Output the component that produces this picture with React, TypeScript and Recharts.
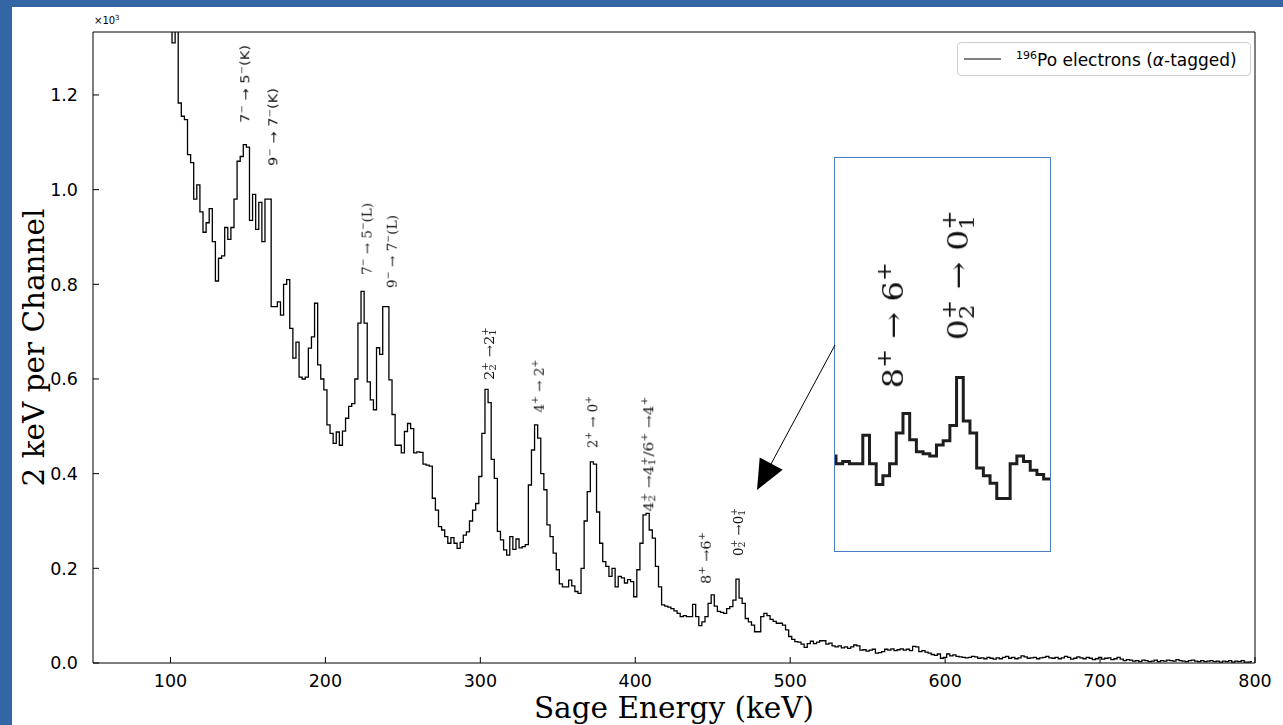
import React from 'react';
import { LineChart, Line, XAxis, YAxis, ReferenceDot } from 'recharts';

// Histogram: 2 keV channels, centre of first channel at 100 keV. Counts in units of 10^3.
const BIN_START_KEV = 100;
const BIN_WIDTH_KEV = 2;
const countsK = [
  // 100-198
  1.45, 1.31, 1.45, 1.183, 1.155, 1.148, 1.074, 1.057, 0.98, 1.01,
  0.953, 0.91, 0.93, 0.96, 0.89, 0.807, 0.855, 0.86, 0.92, 0.895,
  0.92, 0.98, 1.06, 1.07, 1.095, 1.09, 0.935, 0.99, 0.916, 0.973,
  0.89, 0.98, 0.98, 0.753, 0.753, 0.763, 0.735, 0.80, 0.81, 0.707,
  0.644, 0.678, 0.604, 0.60, 0.604, 0.665, 0.689, 0.76, 0.63, 0.60,
  // 200-298
  0.577, 0.503, 0.485, 0.464, 0.488, 0.46, 0.49, 0.517, 0.542, 0.548,
  0.60, 0.718, 0.785, 0.718, 0.594, 0.556, 0.535, 0.666, 0.652, 0.753,
  0.753, 0.598, 0.525, 0.46, 0.46, 0.444, 0.489, 0.506, 0.495, 0.444,
  0.446, 0.445, 0.42, 0.418, 0.416, 0.348, 0.323, 0.288, 0.281, 0.267,
  0.253, 0.265, 0.253, 0.242, 0.255, 0.27, 0.277, 0.30, 0.323, 0.337,
  // 300-398
  0.394, 0.485, 0.578, 0.55, 0.43, 0.39, 0.278, 0.26, 0.239, 0.228,
  0.267, 0.24, 0.262, 0.243, 0.246, 0.25, 0.376, 0.45, 0.503, 0.475,
  0.40, 0.366, 0.292, 0.267, 0.232, 0.197, 0.167, 0.161, 0.161, 0.175,
  0.163, 0.151, 0.147, 0.20, 0.30, 0.362, 0.425, 0.42, 0.319, 0.253,
  0.214, 0.204, 0.183, 0.20, 0.161, 0.183, 0.18, 0.169, 0.176, 0.172,
  // 400-498
  0.14, 0.197, 0.253, 0.313, 0.316, 0.281, 0.264, 0.204, 0.161, 0.123,
  0.12, 0.118, 0.115, 0.11, 0.105, 0.098, 0.10, 0.098, 0.098, 0.124,
  0.098, 0.079, 0.087, 0.098, 0.126, 0.144, 0.12, 0.109, 0.107, 0.105,
  0.115, 0.119, 0.133, 0.177, 0.137, 0.126, 0.094, 0.087, 0.08, 0.066,
  0.066, 0.098, 0.105, 0.10, 0.092, 0.088, 0.084, 0.084, 0.08, 0.07,
  // 500-598
  0.056, 0.05, 0.045, 0.044, 0.04, 0.033, 0.041, 0.046, 0.041, 0.044,
  0.047, 0.047, 0.04, 0.042, 0.036, 0.034, 0.036, 0.032, 0.034, 0.031,
  0.034, 0.038, 0.036, 0.027, 0.028, 0.025, 0.027, 0.029, 0.021, 0.022,
  0.024, 0.029, 0.027, 0.03, 0.026, 0.028, 0.03, 0.027, 0.029, 0.026,
  0.035, 0.034, 0.024, 0.026, 0.023, 0.021, 0.018, 0.016, 0.019, 0.01,
  // 600-698
  0.012, 0.019, 0.015, 0.017, 0.014, 0.013, 0.012, 0.011, 0.012, 0.014,
  0.013, 0.01, 0.011, 0.009, 0.012, 0.01, 0.008, 0.011, 0.009, 0.012,
  0.014, 0.01, 0.012, 0.009, 0.011, 0.015, 0.013, 0.01, 0.011, 0.012,
  0.009, 0.011, 0.012, 0.014, 0.011, 0.01, 0.012, 0.009, 0.011, 0.014,
  0.012, 0.008, 0.01, 0.013, 0.011, 0.009, 0.012, 0.01, 0.007, 0.009,
  // 700-798
  0.012, 0.008, 0.01, 0.011, 0.007, 0.009, 0.012, 0.008, 0.005, 0.007,
  0.006, 0.004, 0.005, 0.003, 0.006, 0.005, 0.003, 0.004, 0.006, 0.003,
  0.005, 0.004, 0.006, 0.005, 0.004, 0.007, 0.005, 0.004, 0.003, 0.005,
  0.006, 0.004, 0.003, 0.005, 0.003, 0.004, 0.005, 0.003, 0.004, 0.002,
  0.004, 0.003, 0.005, 0.002, 0.004, 0.003, 0.005, 0.002, 0.002, 0.003,
];

const xTicks = [100, 200, 300, 400, 500, 600, 700, 800];
const yTicks = [0, 0.2, 0.4, 0.6, 0.8, 1.0, 1.2];

const data = countsK.map((c, i) => ({ e: BIN_START_KEV + i * BIN_WIDTH_KEV, c }));

type Part = string | { sup: string; sub?: string };
interface Ann { e: number; v: number; parts: Part[]; len: number; sans?: boolean }

// Transition labels, anchored (bottom of the rotated text) in data coordinates.
const transitionLabels: Ann[] = [
  { e: 148.3, v: 1.141, parts: ['7', { sup: '−' }, ' → 5', { sup: '−' }, '(K)'], len: 78, sans: true },
  { e: 166.4, v: 1.050, parts: ['9', { sup: '−' }, ' → 7', { sup: '−' }, '(K)'], len: 78, sans: true },
  { e: 226.6, v: 0.820, parts: ['7', { sup: '−' }, ' → 5', { sup: '−' }, '(L)'], len: 72 },
  { e: 242.8, v: 0.792, parts: ['9', { sup: '−' }, ' → 7', { sup: '−' }, '(L)'], len: 73 },
  { e: 305.6, v: 0.598, parts: ['2', { sup: '+', sub: '2' }, ' →2', { sup: '+', sub: '1' }], len: 53 },
  { e: 337.7, v: 0.529, parts: ['4', { sup: '+' }, ' → 2', { sup: '+' }], len: 53 },
  { e: 372.3, v: 0.454, parts: ['2', { sup: '+' }, ' → 0', { sup: '+' }], len: 52 },
  { e: 408.4, v: 0.320, parts: ['4', { sup: '+', sub: '2' }, ' →4', { sup: '+', sub: '1' }, '/6', { sup: '+' }, ' →4', { sup: '+' }], len: 115 },
  { e: 445.5, v: 0.167, parts: ['8', { sup: '+' }, ' →6', { sup: '+' }], len: 52 },
  { e: 466.3, v: 0.226, parts: ['0', { sup: '+', sub: '2' }, ' →0', { sup: '+', sub: '1' }], len: 48 },
];

const insetLabels: Ann[] = [
  { e: 446.0, v: 0.167, parts: ['8', { sup: '+' }, ' → 6', { sup: '+' }], len: 126 },
  { e: 465.4, v: 0.211, parts: ['0', { sup: '+', sub: '2' }, ' → 0', { sup: '+', sub: '1' }], len: 130 },
];

const INSET_X_DOMAIN: [number, number] = [428.7, 492.9];
const INSET_Y_DOMAIN: [number, number] = [0.018, 0.378];

function RotLabel({ cx, cy, parts, fs, len, family }: { cx: number; cy: number; parts: Part[]; fs: number; len: number; family: string }) {
  const spans: React.ReactNode[] = [];
  let shift = 0;
  let pendingDx = 0;
  const supDy = -0.42 * fs;
  const subDy = 0.22 * fs;
  const sfs = 0.7 * fs;
  const charW = (ch: string) => (ch === '+' ? 0.838 : ch === '−' ? 0.838 : 0.636) * sfs;
  parts.forEach((p, k) => {
    if (typeof p === 'string') {
      spans.push(
        <tspan key={k} dy={-shift} dx={pendingDx} fontSize={fs}>{p}</tspan>
      );
      shift = 0;
      pendingDx = 0;
    } else {
      spans.push(
        <tspan key={k + 'a'} dy={supDy - shift} dx={pendingDx} fontSize={sfs}>{p.sup}</tspan>
      );
      shift = supDy;
      pendingDx = 0;
      if (p.sub) {
        const w = charW(p.sup);
        spans.push(
          <tspan key={k + 'b'} dx={-w} dy={subDy - shift} fontSize={sfs}>{p.sub}</tspan>
        );
        shift = subDy;
        pendingDx = Math.max(0, w - charW(p.sub));
      }
    }
  });
  return (
    <g transform={`translate(${cx},${cy}) rotate(-90)`} filter="url(#grayText)">
      <text x={0} y={0.36 * fs} fontFamily={family} fontSize={fs} fill="#111" textLength={len} lengthAdjust="spacingAndGlyphs">
        {spans}
      </text>
    </g>
  );
}

const TICK_FS = 17.5;
const TITLE_FS = 29.5;

function XTick(props: any) {
  const { x, y, payload } = props;
  return (
    <text x={x} y={y} dy={0.71 * TICK_FS} textAnchor="middle" fontFamily="DejaVu Sans" fontSize={TICK_FS} fill="#000">
      {payload.value}
    </text>
  );
}

function YTick(props: any) {
  const { x, y, payload } = props;
  return (
    <text x={x} y={y} dy={0.36 * TICK_FS} textAnchor="end" fontFamily="DejaVu Sans" fontSize={TICK_FS} fill="#000">
      {Number(payload.value).toFixed(1)}
    </text>
  );
}

export default function App() {
  return (
    <div style={{ position: 'fixed', left: 0, top: 0, width: 1283, height: 725, background: '#fff', overflow: 'hidden' }}>
      <svg width={0} height={0} style={{ position: 'absolute' }}>
        <defs>
          <filter id="grayText" x="-20%" y="-60%" width="140%" height="220%">
            <feColorMatrix type="saturate" values="0" />
          </filter>
        </defs>
      </svg>
      <div style={{ position: 'absolute', left: 0, top: 0, width: 1283, height: 7, background: '#3465a4' }} />
      <div style={{ position: 'absolute', left: 0, top: 0, width: 12, height: 725, background: '#3465a4' }} />
      <div style={{ position: 'absolute', left: 0, top: 0 }}>
        <LineChart width={1283} height={725} data={data} margin={{ top: 31, right: 27, left: 0, bottom: 0 }}>
          <XAxis
            dataKey="e"
            type="number"
            domain={[50, 800]}
            ticks={xTicks}
            allowDataOverflow
            height={62}
            tickSize={-6}
            tickMargin={18}
            tick={<XTick />}
            stroke="#000"
            label={{
              content: (props: any) => {
                const vb = props.viewBox || { x: 93, y: 663, width: 1162, height: 62 };
                return (
                  <text x={vb.x + vb.width / 2} y={vb.y + vb.height - 7.5} textAnchor="middle" fontFamily="DejaVu Serif" fontSize={TITLE_FS} fill="#000">
                    Sage Energy (keV)
                  </text>
                );
              },
            }}
          />
          <XAxis xAxisId="top" orientation="top" type="number" domain={[50, 800]} ticks={xTicks} allowDataOverflow height={1} tickSize={-6} tick={false} stroke="#000" />
          <YAxis
            type="number"
            domain={[0, 1.333]}
            ticks={yTicks}
            allowDataOverflow
            width={93}
            tickSize={-6}
            tickMargin={21}
            tick={<YTick />}
            stroke="#000"
            label={{
              content: (props: any) => {
                const vb = props.viewBox || { x: 0, y: 32, width: 93, height: 631 };
                const cy = vb.y + vb.height / 2;
                return (
                  <g>
                    <text x={44} y={cy} transform={`rotate(-90 44 ${cy})`} textAnchor="middle" fontFamily="DejaVu Serif" fontSize={TITLE_FS} fill="#000">
                      2 keV per Channel
                    </text>
                    <text x={vb.x + vb.width + 1} y={vb.y - 8} fontFamily="DejaVu Sans" fontSize={10} fill="#000">
                      ×10<tspan dy={-4} fontSize={7}>3</tspan>
                    </text>
                  </g>
                );
              },
            }}
          />
          <YAxis yAxisId="right" orientation="right" type="number" domain={[0, 1.333]} ticks={yTicks} allowDataOverflow width={1} tickSize={-6} tick={false} stroke="#000" />
          <Line type="step" dataKey="c" stroke="#000" strokeWidth={1.3} dot={false} isAnimationActive={false} />
          {transitionLabels.map((a, i) => (
            <ReferenceDot
              key={i}
              x={a.e}
              y={a.v}
              r={0}
              ifOverflow="visible"
              shape={(p: any) => (
                <RotLabel cx={p.cx} cy={p.cy} parts={a.parts} fs={a.sans ? 11.5 : 12.5} len={a.len} family={a.sans ? 'DejaVu Sans' : 'DejaVu Serif'} />
              )}
            />
          ))}
        </LineChart>
      </div>

      {/* Legend */}
      <div
        style={{
          position: 'absolute', left: 957, top: 42, width: 294, height: 34, boxSizing: 'border-box',
          border: '1px solid #cfcfcf', borderRadius: 4, background: '#fff', fontFamily: 'DejaVu Sans', fontSize: 17,
          color: '#000', display: 'flex', alignItems: 'center',
        }}
      >
        <svg width={44} height={10} style={{ marginLeft: 5, flex: 'none' }}>
          <line x1={1} x2={38} y1={5} y2={5} stroke="#000" strokeWidth={1.2} />
        </svg>
        <span style={{ marginLeft: 9, whiteSpace: 'nowrap' }}>
          <sup style={{ fontSize: 11 }}>196</sup>Po electrons (<i>α</i>-tagged)
        </span>
      </div>

      {/* Inset */}
      <div style={{ position: 'absolute', left: 834, top: 157, width: 217, height: 395, boxSizing: 'border-box', border: '1px solid #4a7cc4', background: '#fff' }}>
        <LineChart width={215} height={393} data={data} margin={{ top: 0, right: 0, left: 0, bottom: 0 }}>
          <XAxis dataKey="e" type="number" domain={INSET_X_DOMAIN} allowDataOverflow hide />
          <YAxis type="number" domain={INSET_Y_DOMAIN} allowDataOverflow hide />
          <Line type="step" dataKey="c" stroke="#1e1e1e" strokeWidth={3} dot={false} isAnimationActive={false} />
          {insetLabels.map((a, i) => (
            <ReferenceDot
              key={i}
              x={a.e}
              y={a.v}
              r={0}
              ifOverflow="visible"
              shape={(p: any) => <RotLabel cx={p.cx} cy={p.cy} parts={a.parts} fs={28} len={a.len} family="DejaVu Serif" />}
            />
          ))}
        </LineChart>
      </div>

      {/* Arrow from inset to the peaks */}
      <svg width={1283} height={725} style={{ position: 'absolute', left: 0, top: 0, pointerEvents: 'none' }}>
        <line x1={835} y1={345} x2={771} y2={464} stroke="#000" strokeWidth={1} />
        <polygon points="757,490 782.7,469.8 759.7,457.4" fill="#000" />
      </svg>
    </div>
  );
}
